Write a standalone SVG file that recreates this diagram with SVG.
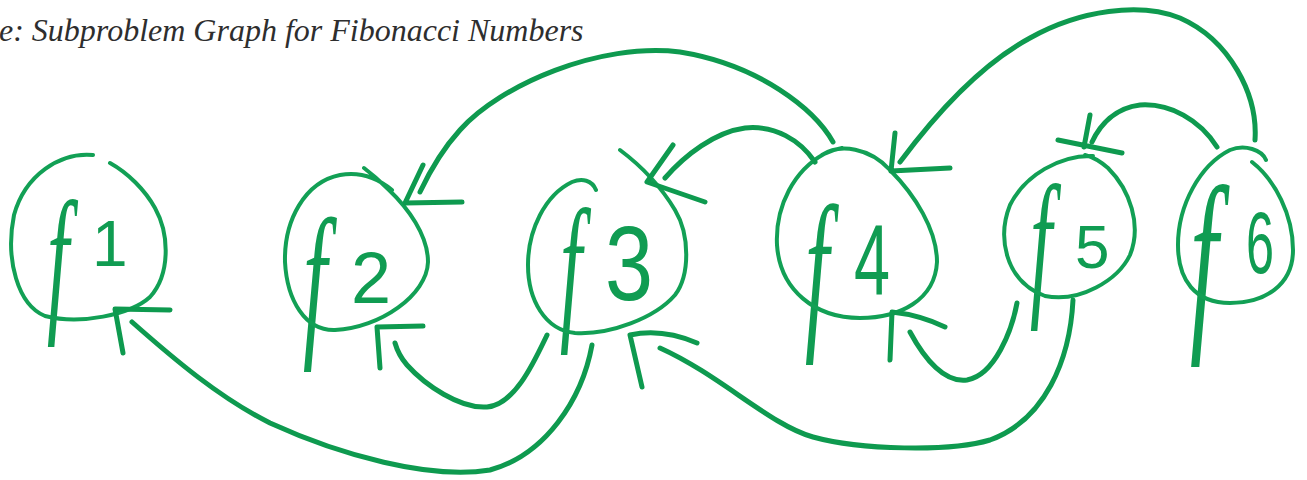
<svg xmlns="http://www.w3.org/2000/svg" width="1307" height="480" viewBox="0 0 1307 480">
  <style>
    .title { font-family: "Liberation Serif", "Times New Roman", serif; font-style: italic; font-size: 32px; fill: #2e2e2e; }
    .ring { fill: none; stroke: #12a055; stroke-width: 4; stroke-linecap: round; stroke-linejoin: round; }
    .edge { fill: none; stroke: #0e9a4f; stroke-width: 5; stroke-linecap: round; stroke-linejoin: round; }
    .lbl { fill: #109c52; }
    .f { font-family: "Liberation Serif", "Times New Roman", serif; font-style: italic; }
    .d { font-family: "Liberation Sans", Arial, sans-serif; }
  </style>

  <rect width="1307" height="480" fill="#ffffff"/>

  <text class="title" x="-1" y="41">e: Subproblem Graph for Fibonacci Numbers</text>

  <!-- labels first, so the hand-drawn rings sit on top of them -->
  <g id="f1">
    <text class="lbl"><tspan class="f" x="47" y="313" font-size="160" textLength="22" lengthAdjust="spacingAndGlyphs">f</tspan><tspan class="d" x="92" y="266" font-size="64">1</tspan></text>
    <path class="ring" d="M 93 155 C 60 152, 25 175, 14 215 C 5 260, 18 305, 45 316 C 80 325, 130 315, 150 297 C 170 275, 170 235, 155 208 C 145 190, 128 173, 110 163"/>
  </g>
  <g id="f2">
    <text class="lbl"><tspan class="f" x="303" y="336" font-size="170" textLength="24" lengthAdjust="spacingAndGlyphs">f</tspan><tspan class="d" x="351" y="303" font-size="72">2</tspan></text>
    <path class="ring" d="M 364 168 C 372 174, 380 181, 388 189 C 408 208, 428 235, 428 262 C 427 295, 380 328, 335 330 C 305 331, 287 300, 285 262 C 284 220, 305 182, 340 175 C 362 171, 380 180, 392 190"/>
  </g>
  <g id="f3">
    <text class="lbl"><tspan class="f" x="560" y="321" font-size="160" textLength="22" lengthAdjust="spacingAndGlyphs">f</tspan><tspan class="d" x="605" y="300" font-size="105" textLength="48" lengthAdjust="spacingAndGlyphs">3</tspan></text>
    <path class="ring" d="M 596 190 C 592 180, 582 178, 572 182 C 545 195, 528 230, 528 265 C 528 300, 545 330, 575 333 C 610 335, 655 318, 675 295 C 690 275, 690 235, 675 210 C 660 185, 640 165, 620 150"/>
  </g>
  <g id="f4">
    <text class="lbl"><tspan class="f" x="805" y="328" font-size="175" textLength="24" lengthAdjust="spacingAndGlyphs">f</tspan><tspan class="d" x="854" y="295" font-size="100" textLength="36" lengthAdjust="spacingAndGlyphs">4</tspan></text>
    <path class="ring" d="M 822 155 C 840 143, 870 148, 890 170 C 915 195, 937 230, 937 262 C 935 300, 900 318, 860 318 C 815 318, 780 290, 777 245 C 775 205, 795 170, 824 154 C 830 151, 836 149, 842 148"/>
  </g>
  <g id="f5">
    <text class="lbl"><tspan class="f" x="1030" y="297" font-size="160" textLength="22" lengthAdjust="spacingAndGlyphs">f</tspan><tspan class="d" x="1075" y="268" font-size="62">5</tspan></text>
    <path class="ring" d="M 1093 156 C 1060 155, 1025 175, 1010 205 C 998 235, 1003 280, 1045 296 C 1080 303, 1118 280, 1130 255 C 1142 225, 1130 190, 1108 168 C 1100 161, 1093 157, 1085 155"/>
  </g>
  <g id="f6">
    <text class="lbl"><tspan class="f" x="1190" y="325" font-size="200" textLength="28" lengthAdjust="spacingAndGlyphs">f</tspan><tspan class="d" x="1246" y="273" font-size="88" textLength="28" lengthAdjust="spacingAndGlyphs">6</tspan></text>
    <path class="ring" d="M 1252 162 C 1275 180, 1293 215, 1293 250 C 1293 285, 1265 303, 1230 303 C 1195 303, 1178 280, 1178 245 C 1178 205, 1200 165, 1230 150 C 1245 144, 1262 150, 1266 160"/>
  </g>

  <g id="edges">
    <!-- f3 -> f1 -->
    <path class="edge" d="M 592 345 C 582 400, 545 455, 490 470 C 430 480, 340 455, 270 423 C 220 398, 175 360, 132 322"/>
    <path class="edge" d="M 170 310 L 115 309 L 123 353"/>
    <!-- f3 -> f2 -->
    <path class="edge" d="M 547 335 C 535 360, 515 405, 487 407 C 460 409, 425 385, 407 365 C 400 357, 397 350, 395 343"/>
    <path class="edge" d="M 423 326 L 377 327 L 380 368"/>
    <!-- f4 -> f2 -->
    <path class="edge" d="M 833 142 C 815 110, 760 65, 680 52 C 600 42, 500 85, 460 130 C 440 152, 428 175, 420 192"/>
    <path class="edge" d="M 423 165 L 405 203 L 462 202"/>
    <!-- f4 -> f3 -->
    <path class="edge" d="M 815 162 C 800 140, 775 125, 745 128 C 715 132, 685 155, 665 178"/>
    <path class="edge" d="M 673 145 L 647 182 L 705 202"/>
    <!-- f5 -> f3 -->
    <path class="edge" d="M 1073 300 C 1070 360, 1045 420, 990 440 C 950 452, 860 450, 813 437 C 770 425, 720 375, 660 348"/>
    <path class="edge" d="M 697 343 Q 662 328 630 335 L 642 387"/>
    <!-- f5 -> f4 -->
    <path class="edge" d="M 1017 303 C 1012 330, 995 375, 967 380 C 945 383, 925 360, 910 332"/>
    <path class="edge" d="M 945 327 Q 920 315 892 312 L 890 360"/>
    <!-- f6 -> f4 -->
    <path class="edge" d="M 1255 140 C 1258 95, 1230 40, 1180 18 C 1140 2, 1080 10, 1030 38 C 980 65, 935 115, 900 162"/>
    <path class="edge" d="M 895 133 L 891 171 L 950 168"/>
    <!-- f6 -> f5 -->
    <path class="edge" d="M 1217 147 C 1200 120, 1170 103, 1140 105 C 1115 108, 1100 125, 1092 142"/>
    <path class="edge" d="M 1090 115 L 1084 147 M 1058 140 L 1122 153"/>
  </g>
</svg>
